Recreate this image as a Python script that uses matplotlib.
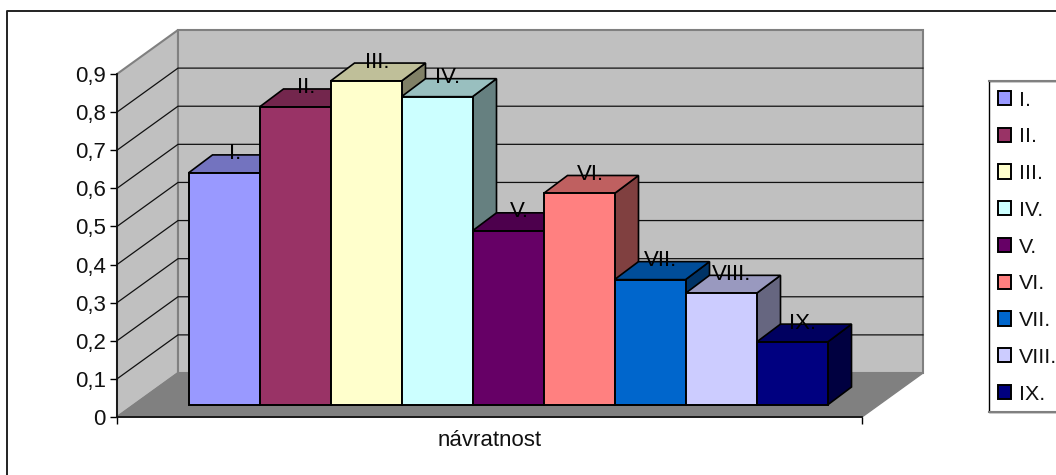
import matplotlib

matplotlib.use("Agg")
import matplotlib.pyplot as plt
from matplotlib.colors import to_rgb
from matplotlib.lines import Line2D
from matplotlib.patches import Patch, Polygon

plt.rcParams["font.family"] = ["Liberation Sans", "DejaVu Sans"]

labels = ["I.", "II.", "III.", "IV.", "V.", "VI.", "VII.", "VIII.", "IX."]
values = [0.609, 0.782, 0.850, 0.809, 0.457, 0.555, 0.329, 0.293, 0.165]
colors = ["#9999FF", "#993366", "#FFFFCC", "#CCFFFF", "#660066", "#FF8080", "#0066CC", "#CCCCFF", "#000080"]
y_ticks = [0, 0.1, 0.2, 0.3, 0.4, 0.5, 0.6, 0.7, 0.8, 0.9]
y_labels = ["0", "0,1", "0,2", "0,3", "0,4", "0,5", "0,6", "0,7", "0,8", "0,9"]
category = "návratnost"

W, H = 1056, 475
FONT = 16

# front plane of the box in pixels
left, right, top, bottom = 117, 862, 74, 417
bar_w = 71.0
sx = 1 / bar_w
sy = 0.9 / (bottom - top)
x_max = (right - left) * sx

# depth offsets, converted to data units
wall_dx, wall_dy = 61 * sx, 44 * sy
bar_dx, bar_dy = 24 * sx, 18 * sy
bar_x0, bar_y0 = (188.5 - left) * sx, 12 * sy


def shade(color, factor):
    return tuple(c * factor for c in to_rgb(color))


def fig_line(xs, ys, color, lw):
    fig.add_artist(Line2D([x / W for x in xs], [1 - y / H for y in ys], color=color, lw=lw, transform=fig.transFigure))


fig = plt.figure(figsize=(W / 100, H / 100), dpi=100)
fig_line([6.7, 6.7, W], [H, 10.7, 10.7], "#222222", 1.4)

ax = fig.add_axes([left / W, 1 - bottom / H, (right - left) / W, (bottom - top) / H])
ax.set_xlim(0, x_max)
ax.set_ylim(0, 0.9)
ax.patch.set_visible(False)
for name in ["top", "right"]:
    ax.spines[name].set_visible(False)
for name in ["left", "bottom"]:
    ax.spines[name].set_linewidth(1.3)
    ax.spines[name].set_color("#111111")


def poly(points, fc, ec, lw=1.0, z=1):
    ax.add_patch(Polygon(points, closed=True, fc=fc, ec=ec, lw=lw, zorder=z, clip_on=False, joinstyle="miter"))


# walls and floor
poly([(0, 0), (wall_dx, wall_dy), (wall_dx, 0.9 + wall_dy), (0, 0.9)], "#C0C0C0", "#808080", 1.5)
poly([(wall_dx, wall_dy), (x_max + wall_dx, wall_dy), (x_max + wall_dx, 0.9 + wall_dy), (wall_dx, 0.9 + wall_dy)],
     "#C0C0C0", "#808080", 1.5)
poly([(0, 0), (x_max, 0), (x_max + wall_dx, wall_dy), (wall_dx, wall_dy)], "#808080", "#808080", 1.0)

for tick in y_ticks[1:-1]:
    ax.plot([0, wall_dx, x_max + wall_dx], [tick, tick + wall_dy, tick + wall_dy], color="#111111", lw=0.9, zorder=1.5,
            clip_on=False)

# bars, left to right so each one covers the side of the previous
for i, (value, color) in enumerate(zip(values, colors)):
    x0 = bar_x0 + i
    x1 = x0 + 1
    y0 = bar_y0
    y1 = bar_y0 + value
    z = 2 + i * 0.1
    poly([(x1, y0), (x1 + bar_dx, y0 + bar_dy), (x1 + bar_dx, y1 + bar_dy), (x1, y1)], shade(color, 0.5), "black", 1.2, z)
    poly([(x0, y1), (x1, y1), (x1 + bar_dx, y1 + bar_dy), (x0 + bar_dx, y1 + bar_dy)], shade(color, 0.75), "black", 1.2, z)
    ax.bar(x0, value, width=1, bottom=y0, align="edge", color=color, edgecolor="black", linewidth=1.4, zorder=z,
           clip_on=False)

for i, (label, value) in enumerate(zip(labels, values)):
    ax.text(bar_x0 + i + 0.5 + bar_dx * 0.5 - 1 * sx, bar_y0 + value + bar_dy + 1 * sy, label, ha="center", va="center",
            fontsize=FONT, color="black", zorder=5)

ax.set_yticks(y_ticks, y_labels, fontsize=FONT, color="#111111")
ax.set_xticks([0, x_max], ["", ""])
ax.tick_params(axis="y", length=5, width=1, pad=3)
ax.tick_params(axis="x", length=5, width=1)
ax.xaxis.get_ticklines()[2].set_color("#808080")
ax.text(x_max / 2, -24 * sy, category, ha="center", va="center", fontsize=FONT, color="#111111", clip_on=False)

# legend box runs off the right edge, only the left side is black
fig_line([W, 989, 989, W], [81, 81, 412, 412], "black", 1.0)
fig_line([989, W], [81, 81], "#808080", 1.5)
fig_line([989, W], [412, 412], "#808080", 1.5)
handles = [Patch(fc=c, ec="black", lw=1.4) for c in colors]
fig.legend(handles, labels, loc="upper left", bbox_to_anchor=(989 / W, 1 - 82 / H), fontsize=15.4, frameon=False,
           handlelength=0.64, handleheight=0.64, handletextpad=0.34, labelspacing=0.83, borderpad=0.4, borderaxespad=0,
           labelcolor="#111111")

fig.savefig("out.png", dpi=100)
